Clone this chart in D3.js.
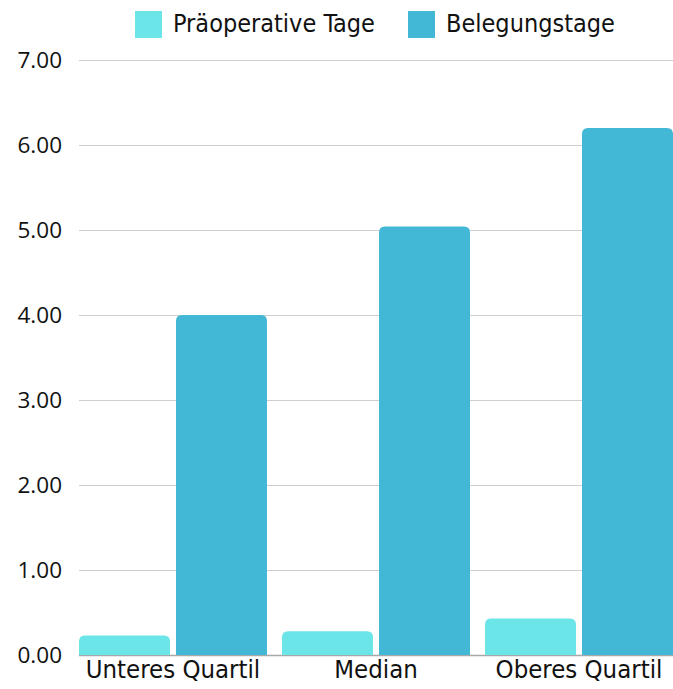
<!DOCTYPE html>
<html>
<head>
<meta charset="utf-8">
<script src="https://cdn.jsdelivr.net/npm/d3@7"></script>
<style>
  body { margin: 0; background: #fff; }
  svg { display: block; }
  .tick text { font-family: "Open Sans", "DejaVu Sans", sans-serif; }
</style>
</head>
<body>
<div id="chart"></div>
<script>
var categories = ["Unteres Quartil", "Median", "Oberes Quartil"];
var seriesNames = ["Präoperative Tage", "Belegungstage"];
var praeoperativ = [0.23, 0.28, 0.43];
var belegung = [4.0, 5.04, 6.2];
var yTicks = [0, 1, 2, 3, 4, 5, 6, 7];
var colors = ["#6be5e8", "#42b8d6"];

var W = 673, H = 689;
var margin = { top: 60, right: 0, bottom: 34, left: 79 };
var condensed = "'Liberation Sans Narrow', 'DejaVu Sans Condensed', 'Roboto', sans-serif";

var svg = d3.select("#chart").append("svg")
    .attr("width", W)
    .attr("height", H);

var data = categories.map(function(c, i) {
    return { cat: c, values: [praeoperativ[i], belegung[i]] };
});

var x0 = d3.scaleBand()
    .domain(categories)
    .range([margin.left, W - margin.right])
    .paddingInner(0.074)
    .paddingOuter(0)
    .align(0);

var x1 = d3.scaleBand()
    .domain(d3.range(seriesNames.length))
    .range([0, x0.bandwidth()])
    .paddingInner(0.062);

var y = d3.scaleLinear()
    .domain([0, 7])
    .range([H - margin.bottom, margin.top]);

// gridlines
svg.append("g")
    .selectAll("line")
    .data(yTicks)
    .enter().append("line")
    .attr("x1", margin.left)
    .attr("x2", W)
    .attr("y1", function(d) { return Math.round(y(d)) + 0.5; })
    .attr("y2", function(d) { return Math.round(y(d)) + 0.5; })
    .attr("stroke", function(d) { return d === 0 ? "#a8a8a8" : "#cfcfcf"; })
    .attr("stroke-width", function(d) { return d === 0 ? 1.5 : 1; });

// y axis labels
var yAxis = svg.append("g")
    .attr("transform", "translate(" + (margin.left - 17) + ",0)")
    .call(d3.axisLeft(y).tickValues(yTicks).tickFormat(d3.format(".2f")).tickSize(0).tickPadding(0));
yAxis.select(".domain").remove();
yAxis.selectAll("text")
    .attr("font-size", 22.5)
    .attr("fill", "#111")
    .attr("dy", "0.35em");

// rounded top bar path
function barPath(x, yTop, w, h, r) {
    r = Math.min(r, h, w / 2);
    return "M" + x + "," + (yTop + h) +
        "V" + (yTop + r) +
        "Q" + x + "," + yTop + " " + (x + r) + "," + yTop +
        "H" + (x + w - r) +
        "Q" + (x + w) + "," + yTop + " " + (x + w) + "," + (yTop + r) +
        "V" + (yTop + h) + "Z";
}

var groups = svg.append("g")
    .selectAll("g")
    .data(data)
    .enter().append("g")
    .attr("transform", function(d) { return "translate(" + x0(d.cat) + ",0)"; });

groups.selectAll("path")
    .data(function(d) { return d.values; })
    .enter().append("path")
    .attr("d", function(v, i) {
        return barPath(x1(i), y(v), x1.bandwidth(), y(0) - y(v), 6);
    })
    .attr("fill", function(v, i) { return colors[i]; });

// x labels
svg.append("g")
    .selectAll("text")
    .data(categories)
    .enter().append("text")
    .attr("x", function(d) { return x0(d) + x0.bandwidth() / 2; })
    .attr("y", H - 11)
    .attr("text-anchor", "middle")
    .attr("font-family", condensed)
    .attr("font-size", 25.5)
    .attr("fill", "#111")
    .text(function(d) { return d; });

// legend
var legendX = [135, 408];
var legend = svg.append("g")
    .selectAll("g")
    .data(seriesNames)
    .enter().append("g")
    .attr("transform", function(d, i) { return "translate(" + legendX[i] + ",11)"; });

legend.append("rect")
    .attr("width", 27)
    .attr("height", 27)
    .attr("fill", function(d, i) { return colors[i]; });

legend.append("text")
    .attr("x", 38)
    .attr("y", 21)
    .attr("font-family", condensed)
    .attr("font-size", 25)
    .attr("fill", "#111")
    .text(function(d) { return d; });
</script>
</body>
</html>
